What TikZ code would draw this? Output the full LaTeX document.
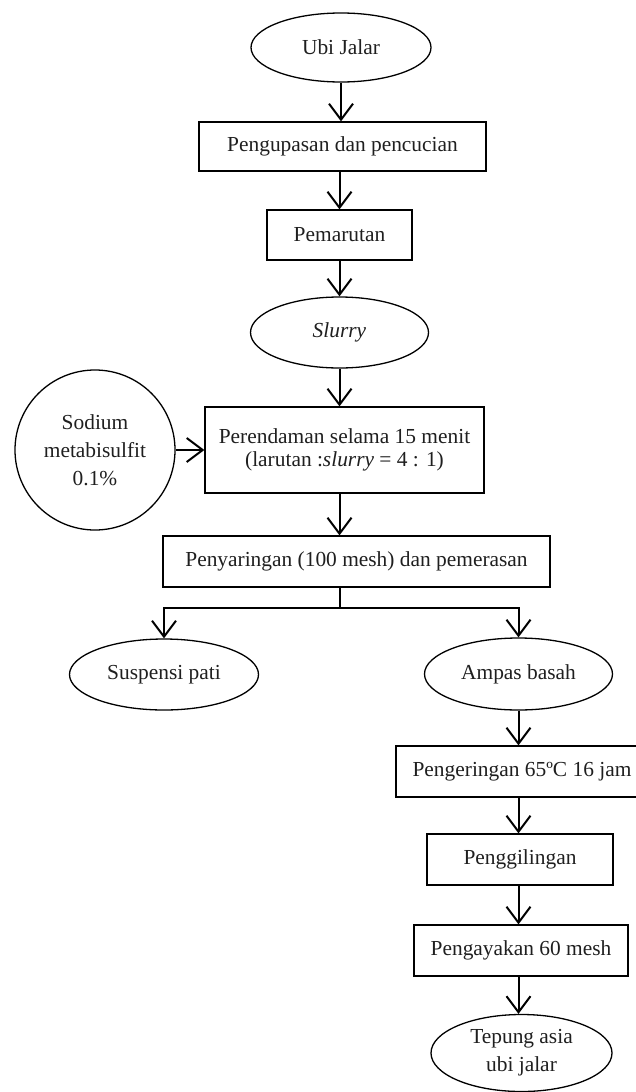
\documentclass[tikz,border=0pt]{standalone}
\usepackage{fontspec}
\setmainfont{Liberation Serif}
\usetikzlibrary{arrows.meta,shapes.geometric}
\begin{document}
\begin{tikzpicture}[x=0.5pt,y=-0.5pt,
  every node/.style={font=\fontsize{10.7}{14}\selectfont, inner sep=0pt, align=center, text=black!88},
  box/.style={draw, line width=0.65pt, rectangle},
  oval/.style={draw, line width=0.65pt, ellipse},
  arr/.style={line width=1pt, -{Straight Barb[length=8pt,width=12pt,line width=1pt]}},
  plain/.style={line width=1pt},
]
\useasboundingbox (0,0) rectangle (636,1092);
\node[oval, minimum width=90pt, minimum height=34.5pt] (ubi) at (341,47.5) {Ubi Jalar};
\node[box, minimum width=143.5pt, minimum height=24.5pt] (b1) at (342.5,146.5) {Pengupasan dan pencucian};
\node[box, minimum width=72.5pt, minimum height=25pt] (b2) at (339.5,235) {Pemarutan};
\node[oval, minimum width=89pt, minimum height=35.5pt] (slurry) at (339.5,332.5) {\textit{Slurry}};
\node[box, minimum width=139.5pt, minimum height=43pt, font=\fontsize{10.7}{11.8}\selectfont] (b3) at (344.5,450) {Perendaman selama 15 menit\\(larutan :\textit{slurry} = 4 : 1)};
\node[draw, circle, line width=0.65pt, minimum size=80pt] (sod) at (95,450) {Sodium\\metabisulfit\\0.1\%};
\node[box, minimum width=193.5pt, minimum height=25.5pt] (b4) at (356.5,561.5) {Penyaringan (100 mesh) dan pemerasan};
\coordinate (br) at (339.5,608);
\node[oval, minimum width=94.5pt, minimum height=35.5pt] (susp) at (164,674.5) {Suspensi pati};
\node[oval, minimum width=94pt, minimum height=36pt] (ampas) at (518.5,674) {Ampas basah};
\node[box, minimum width=126pt, minimum height=25.5pt] (b5) at (522,771.5) {Pengeringan 65ºC 16 jam};
\node[box, minimum width=93pt, minimum height=25.5pt] (b6) at (520,859.5) {Penggilingan};
\node[box, minimum width=107pt, minimum height=25.5pt] (b7) at (521,950.5) {Pengayakan 60 mesh};
\node[oval, minimum width=90.5pt, minimum height=38.5pt, font=\fontsize{10.7}{14}\selectfont] (tep) at (521.5,1053) {Tepung asia\\ubi jalar};

\draw[arr] (ubi.south) -- (ubi.south |- b1.north);
\draw[arr] (b1.south -| b2.north) -- (b2.north);
\draw[arr] (b2.south) -- (b2.south |- slurry.north);
\draw[arr] (slurry.south) -- (slurry.south |- b3.north);
\draw[arr] (sod.east) -- (b3.west);
\draw[arr] (b3.south -| br) -- (b4.north -| br);
\draw[plain] (b4.south -| br) -- (br);
\draw[arr] (br) -| (susp.north);
\draw[arr] (br) -| (ampas.north);
\draw[arr] (ampas.south) -- (ampas.south |- b5.north);
\draw[arr] (b5.south -| ampas.south) -- (b6.north -| ampas.south);
\draw[arr] (b6.south -| ampas.south) -- (b7.north -| ampas.south);
\draw[arr] (b7.south -| ampas.south) -- (tep.north -| ampas.south);
\end{tikzpicture}
\end{document}
